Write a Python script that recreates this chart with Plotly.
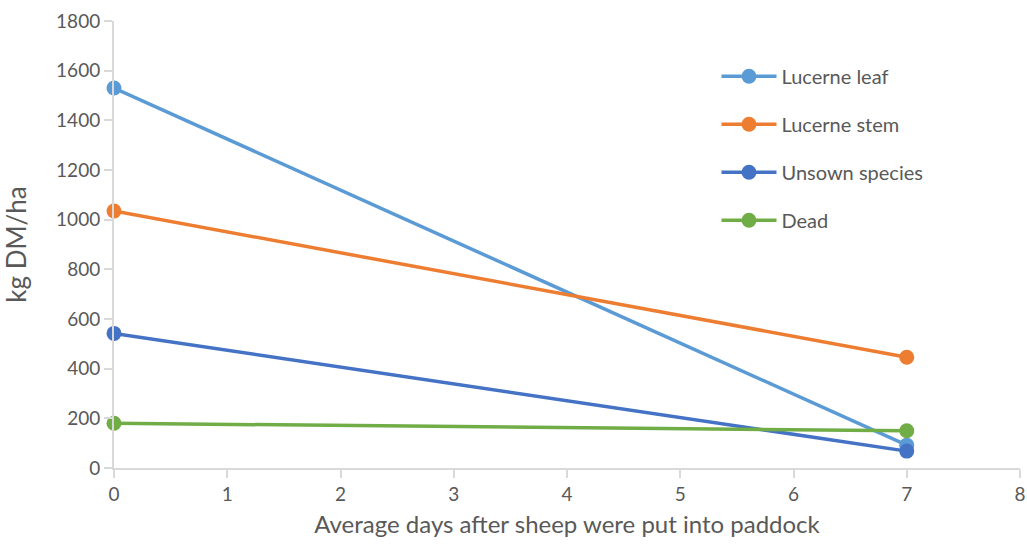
import plotly.graph_objects as go

days = [0, 7]
lucerne_leaf = [1530, 92]
lucerne_stem = [1035, 446]
unsown_species = [542, 68]
dead = [180, 150]

series = [
    ("Lucerne leaf", lucerne_leaf, "#5B9BD5"),
    ("Lucerne stem", lucerne_stem, "#ED7D31"),
    ("Unsown species", unsown_species, "#4472C4"),
    ("Dead", dead, "#70AD47"),
]

FONT = "Lato, 'Open Sans', sans-serif"
GREY = "#595959"
AXIS = "#d9d9d9"

fig = go.Figure()
for name, vals, color in series:
    fig.add_trace(go.Scatter(
        x=days,
        y=vals,
        name=name,
        legendgroup=name,
        mode="lines+markers",
        line=dict(color=color, width=3.5),
        marker=dict(color=color, size=15),
        cliponaxis=False,
    ))

fig.update_layout(
    width=1027,
    height=550,
    plot_bgcolor="white",
    paper_bgcolor="white",
    font=dict(family=FONT, color=GREY, size=19),
    margin=dict(l=114, r=7, t=21, b=82),
    showlegend=True,
    legend=dict(
        x=0.665, y=0.92,
        xanchor="left", yanchor="top",
        font=dict(size=20, color=GREY),
        tracegroupgap=19,
        itemwidth=55,
        bgcolor="rgba(0,0,0,0)",
    ),
)

fig.update_xaxes(
    range=[0, 8],
    dtick=1,
    showgrid=False,
    zeroline=False,
    showline=True,
    linecolor=AXIS,
    linewidth=2,
    ticks="outside",
    ticklen=8,
    tickcolor=AXIS,
    tickwidth=2,
    automargin=False,
    tickfont=dict(size=19, color=GREY),
    title=dict(text="Average days after sheep were put into paddock",
               font=dict(size=24, color=GREY), standoff=12),
)
fig.update_yaxes(
    range=[0, 1800],
    dtick=200,
    showgrid=False,
    zeroline=False,
    showline=True,
    linecolor=AXIS,
    linewidth=2,
    ticks="outside",
    ticklen=8,
    tickcolor=AXIS,
    tickwidth=2,
    automargin=False,
    tickfont=dict(size=19, color=GREY),
    title=dict(text="kg DM/ha", font=dict(size=26, color=GREY), standoff=28),
)

# drop the browser's default body margin so the figure fills the window
fig.write_html(
    "out.html",
    config={"displayModeBar": False},
    post_script="document.body.style.margin='0';document.body.style.overflow='hidden';",
)
